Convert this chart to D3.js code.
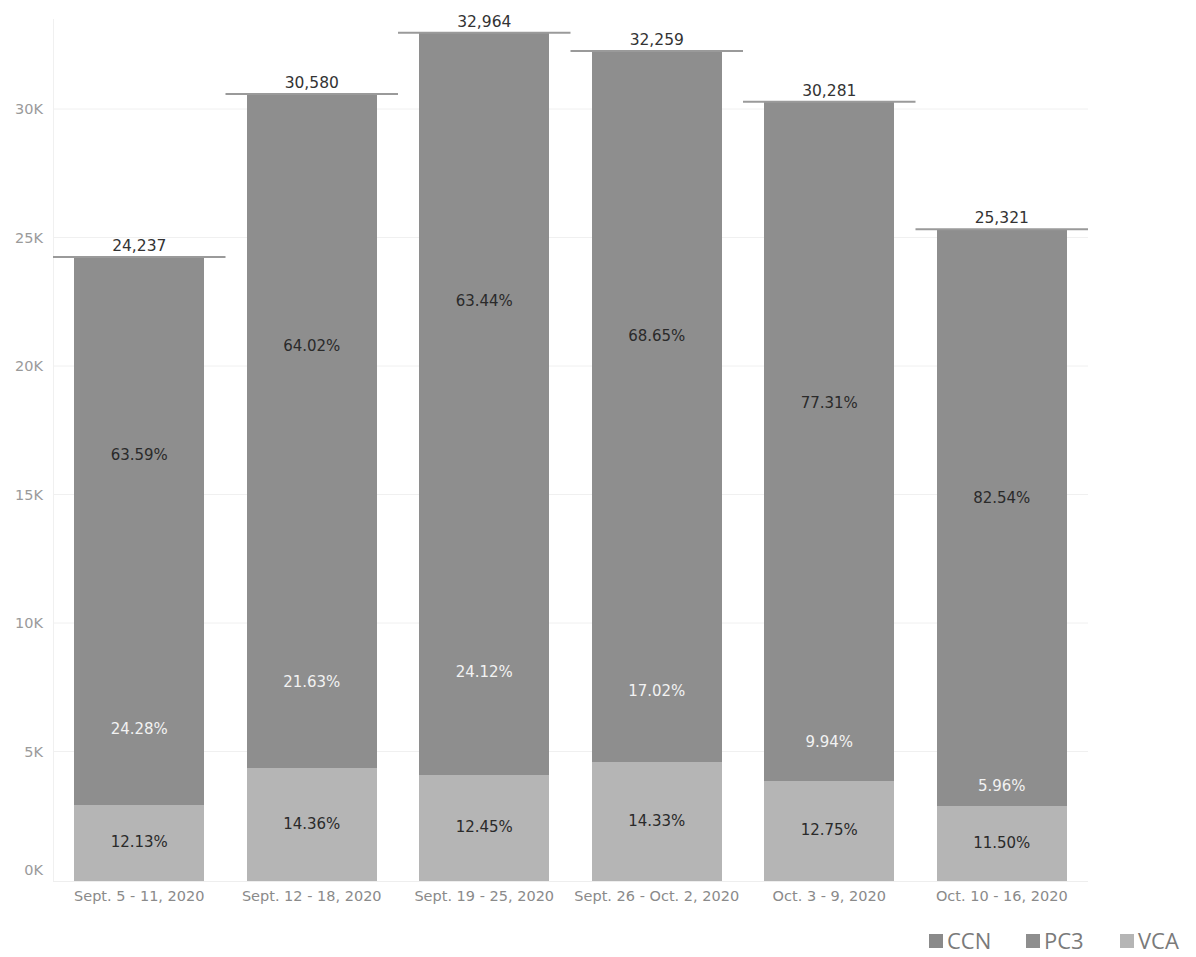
<!DOCTYPE html>
<html><head><meta charset="utf-8">
<script src="https://cdn.jsdelivr.net/npm/d3@7"></script>
<style>body{margin:0;background:#fff}svg{display:block}</style>
</head><body>
<svg id="chart" width="1196" height="957"></svg>
<script>
const categories = ["Sept. 5 - 11, 2020","Sept. 12 - 18, 2020","Sept. 19 - 25, 2020","Sept. 26 - Oct. 2, 2020","Oct. 3 - 9, 2020","Oct. 10 - 16, 2020"];
const totals = [24237, 30580, 32964, 32259, 30281, 25321];
const ccnPct = [63.59, 64.02, 63.44, 68.65, 77.31, 82.54];
const pc3Pct = [24.28, 21.63, 24.12, 17.02, 9.94, 5.96];
const vcaPct = [12.13, 14.36, 12.45, 14.33, 12.75, 11.50];
const seriesNames = ["VCA","PC3","CCN"];
const yTicks = [0, 5000, 10000, 15000, 20000, 25000, 30000];
const legendNames = ["CCN","PC3","VCA"];

const colors = {CCN:"#8e8e8e", PC3:"#8e8e8e", VCA:"#b5b5b5"};
const legendColors = {CCN:"#8a8a8a", PC3:"#8e8e8e", VCA:"#b5b5b5"};
const labelColors = {CCN:"#2a2a2a", PC3:"#f2f2f2", VCA:"#2a2a2a"};
const font = "'DejaVu Sans', sans-serif";

const rows = categories.map((c,i)=>({
  cat:c, total:totals[i],
  VCA: totals[i]*vcaPct[i]/100, PC3: totals[i]*pc3Pct[i]/100, CCN: totals[i]*ccnPct[i]/100,
  pVCA: vcaPct[i], pPC3: pc3Pct[i], pCCN: ccnPct[i]
}));

const svg = d3.select("#chart");
const x = d3.scaleBand().domain(categories).range([53,1088]).paddingInner(0.246).paddingOuter(0.123);
const y = d3.scaleLinear().domain([0,30000]).range([880,109]);

// gridlines
svg.append("g").selectAll("line").data(yTicks.filter(d=>d>0)).join("line")
  .attr("x1",53).attr("x2",1088).attr("y1",d=>y(d)).attr("y2",d=>y(d))
  .attr("stroke","#f0f0f0").attr("stroke-width",1);
// axis lines
svg.append("line").attr("x1",53.5).attr("x2",53.5).attr("y1",y(33500)).attr("y2",882).attr("stroke","#f0f0f0");
svg.append("line").attr("x1",53).attr("x2",1088).attr("y1",881.5).attr("y2",881.5).attr("stroke","#eeeeee");

// y axis
const yAxis = d3.axisLeft(y).tickValues(yTicks).tickFormat(d=>(d/1000)+"K").tickSize(0).tickPadding(10);
const ya = svg.append("g").attr("transform","translate(53,0)").call(yAxis);
ya.select(".domain").remove();
ya.selectAll("text").attr("fill","#9a9a9a").style("font-family",font).style("font-size","14.5px");
ya.selectAll(".tick").filter(d=>d===0).attr("transform",`translate(0,${y(0)-10})`);

// x axis
const xAxis = d3.axisBottom(x).tickSize(0).tickPadding(11);
const xa = svg.append("g").attr("transform","translate(0,880)").call(xAxis);
xa.select(".domain").remove();
xa.selectAll("text").attr("fill","#8a8a8a").style("font-family",font).style("font-size","14.5px");

// stack
const stack = d3.stack().keys(seriesNames)(rows);
const g = svg.append("g");
stack.forEach(s=>{
  g.append("g").selectAll("rect").data(s).join("rect")
    .attr("x",d=>x(d.data.cat)).attr("width",x.bandwidth())
    .attr("y",d=>y(d[1])).attr("height",d=>y(d[0])-y(d[1])+(s.key==="CCN"?0:0.5))
    .attr("shape-rendering","crispEdges")
    .attr("fill",colors[s.key]);
});
stack.forEach(s=>{
  g.append("g").selectAll("text").data(s).join("text")
    .attr("x",d=>x(d.data.cat)+x.bandwidth()/2).attr("y",d=>y((d[0]+d[1])/2))
    .attr("text-anchor","middle").attr("dominant-baseline","central")
    .attr("fill",labelColors[s.key]).style("font-family",font).style("font-size","15px")
    .text(d=>d.data["p"+s.key].toFixed(2)+"%");
});

// total reference lines
const step = x.step();
svg.append("g").selectAll("line").data(rows).join("line")
  .attr("x1",d=>x(d.cat)+x.bandwidth()/2-step/2).attr("x2",d=>x(d.cat)+x.bandwidth()/2+step/2)
  .attr("y1",d=>y(d.total)).attr("y2",d=>y(d.total))
  .attr("stroke","#9a9a9a").attr("stroke-width",2);
svg.append("g").selectAll("text").data(rows).join("text")
  .attr("x",d=>x(d.cat)+x.bandwidth()/2).attr("y",d=>y(d.total)-6)
  .attr("text-anchor","middle").attr("fill","#333").style("font-family",font).style("font-size","15.5px")
  .text(d=>d3.format(",")(d.total));

// legend
const legX = [929, 1026, 1120];
const leg = svg.append("g").selectAll("g").data(legendNames).join("g")
  .attr("transform",(d,i)=>`translate(${legX[i]},0)`);
leg.append("rect").attr("x",0).attr("y",934).attr("width",14).attr("height",14).attr("fill",d=>legendColors[d]);
leg.append("text").attr("x",18).attr("y",949).attr("fill","#7a7a7a")
  .style("font-family","'Open Sans', sans-serif").style("font-size","22px").text(d=>d);
</script>
</body></html>
